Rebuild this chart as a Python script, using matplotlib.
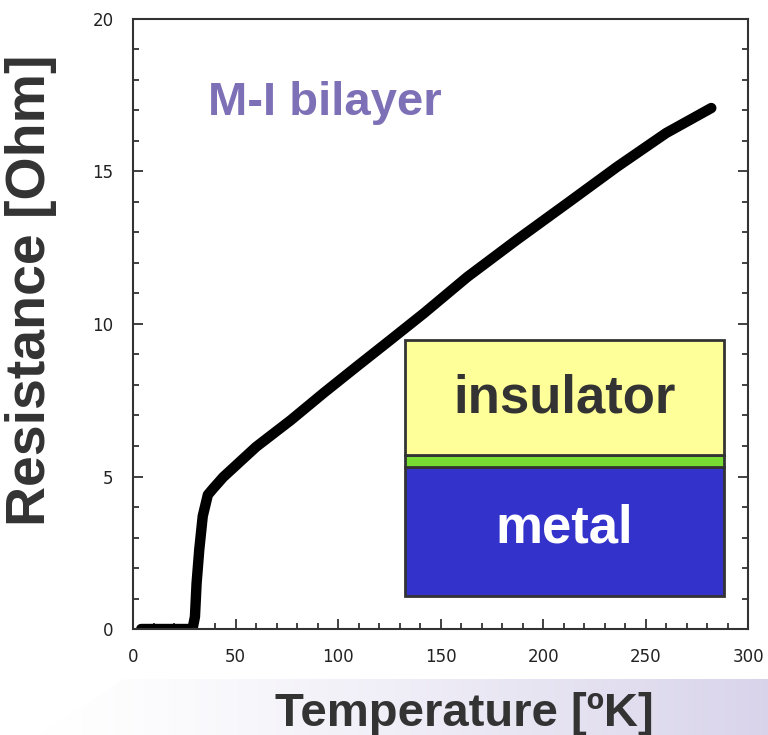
import numpy as np
import matplotlib.pyplot as plt
from matplotlib.patches import Rectangle, Polygon
from matplotlib.ticker import MultipleLocator

# values
temp_K = [4, 10, 20, 29, 30.2, 31, 32.3, 34, 36.5, 39, 44, 60, 77, 93,
          109, 125, 142, 163, 187, 212, 236, 260, 282]
resist_ohm = [0, 0, 0, 0, 0.4, 1.5, 2.6, 3.7, 4.4, 4.6, 4.98, 5.97, 6.85, 7.74,
              8.6, 9.45, 10.36, 11.54, 12.75, 13.97, 15.15, 16.26, 17.08]

x_ticks = [0, 50, 100, 150, 200, 250, 300]
y_ticks = [0, 5, 10, 15, 20]

dark = "#333333"
fig = plt.figure(figsize=(7.68, 7.35), dpi=100)

# slide background band at the bottom (lavender gradient)
bg = fig.add_axes([0, 0, 1, 1], zorder=-5)
bg.set_xlim(0, 768)
bg.set_ylim(735, 0)
bg.axis("off")
grad = np.linspace(0, 1, 256)[None, :] ** 1.3
c0 = np.array([1.0, 1.0, 1.0])
c1 = np.array([0.85, 0.83, 0.92])
img = c0 + (c1 - c0) * grad[..., None]
im = bg.imshow(img, extent=[40, 768, 735, 679], aspect="auto")
band = Polygon([[125, 679], [768, 679], [768, 735], [40, 735]], closed=True,
               transform=bg.transData, facecolor="none", edgecolor="none")
bg.add_patch(band)
im.set_clip_path(band)

ax = fig.add_axes([0.1732, 0.1442, 0.801, 0.830])
ax.plot(temp_K, resist_ohm, color="black", lw=7.5, solid_capstyle="round",
        solid_joinstyle="round")
ax.set_xlim(0, 300)
ax.set_ylim(0, 20)
ax.set_xticks(x_ticks)
ax.set_yticks(y_ticks)
ax.xaxis.set_minor_locator(MultipleLocator(10))
ax.yaxis.set_minor_locator(MultipleLocator(1))
ax.tick_params(which="both", direction="in", right=True, top=False,
               color=dark, width=1.3, labelsize=12, labelcolor="#222222")
ax.tick_params(which="major", length=7)
ax.tick_params(which="minor", length=4)
ax.tick_params(axis="x", pad=14)
ax.tick_params(axis="y", pad=14)
for s in ax.spines.values():
    s.set_color(dark)
    s.set_linewidth(1.5)

ax.set_xlabel("Temperature [ºK]", fontsize=34, fontweight="bold", color=dark,
              family="Liberation Sans")
ax.xaxis.set_label_coords(0.538, -0.103)
ax.set_ylabel("Resistance [Ohm]", fontsize=40, fontweight="bold", color=dark,
              family="Liberation Sans")
ax.yaxis.set_label_coords(-0.124, 0.556)

ax.text(0.312, 0.862, "M-I bilayer", transform=ax.transAxes, fontsize=34,
        fontweight="bold", color="#7d70b6", family="Liberation Sans",
        ha="center", va="center")

# bilayer inset
x0, x1 = 132.7, 288.3
ax.add_patch(Rectangle((x0, 1.08), x1 - x0, 5.31 - 1.08, facecolor="#3333cc",
                       edgecolor=dark, lw=2, zorder=3))
ax.add_patch(Rectangle((x0, 5.31), x1 - x0, 0.39, facecolor="#77dd33",
                       edgecolor=dark, lw=2, zorder=3))
ax.add_patch(Rectangle((x0, 5.70), x1 - x0, 9.48 - 5.70, facecolor="#ffff99",
                       edgecolor=dark, lw=2, zorder=3))
ax.text((x0 + x1) / 2, 7.55, "insulator", fontsize=38, fontweight="bold",
        color=dark, family="Liberation Sans", ha="center", va="center", zorder=4)
ax.text((x0 + x1) / 2, 3.3, "metal", fontsize=38, fontweight="bold",
        color="white", family="Liberation Sans", ha="center", va="center", zorder=4)

fig.savefig("out.png", dpi=100)
